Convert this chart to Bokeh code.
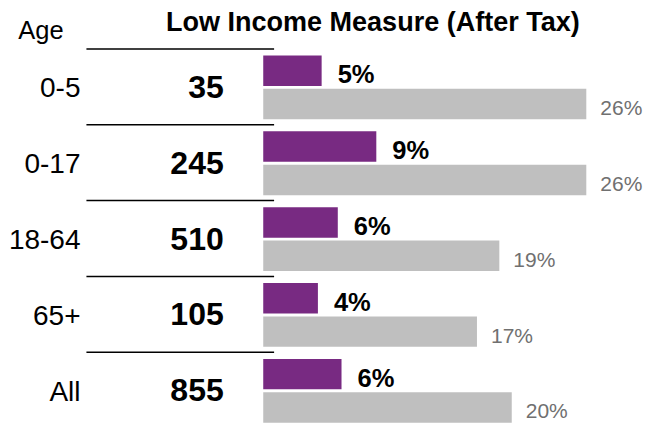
from bokeh.plotting import figure
from bokeh.models import Range1d, ColumnDataSource
from bokeh.core.properties import value
from bokeh.embed import file_html
from bokeh.resources import INLINE

# ---- data ----
ages = ["0-5", "0-17", "18-64", "65+", "All"]
counts = ["35", "245", "510", "105", "855"]
lim_pct = [4.7, 9.1, 6.0, 4.4, 6.3]          # purple bars (group)
lim_labels = ["5%", "9%", "6%", "4%", "6%"]
ref_pct = [26.0, 26.0, 19.0, 17.2, 20.0]     # grey bars (comparison)
ref_labels = ["26%", "26%", "19%", "17%", "20%"]
title_text = "Low Income Measure (After Tax)"
age_header = "Age"

# ---- layout (design grid is 652 x 432 px, drawn into a 644 x 424 figure) ----
W, H = 644, 424
GW, GH = 652, 432
PX_PER_PCT = 12.58
BAR_X0 = 266            # design px where 0% sits
ROW_PX = 77.3
ROW0_PX = 88.5          # design px of row-0 centre

def X(px):  # design px -> data x
    return (px - BAR_X0) / PX_PER_PCT

def Y(py):  # design px -> data y (row units, downward)
    return (py - ROW0_PX) / ROW_PX

FONT = "Liberation Sans"
PURPLE = "#782A82"
GREY = "#BFBFBF"
GREY_TXT = "#707070"

p = figure(width=W, height=H, output_backend="svg", toolbar_location=None,
           x_range=Range1d(X(0), X(GW)), y_range=Range1d(Y(GH), Y(0)),
           min_border=0, outline_line_color=None)
p.axis.visible = False
p.grid.visible = False
p.background_fill_color = "white"
p.border_fill_color = "white"

rows = list(range(len(ages)))
off = 17 / ROW_PX
bh = 31 / ROW_PX

src = ColumnDataSource(dict(
    row=rows, age=ages, cnt=counts,
    lim=lim_pct, liml=lim_labels, ref=ref_pct, refl=ref_labels,
    ylim=[r - off for r in rows], yref=[r + off for r in rows],
    ylim_t=[r - off + 3.5 / ROW_PX for r in rows],
    yref_t=[r + off + 3.5 / ROW_PX for r in rows],
    yage_t=[r + 0.5 / ROW_PX for r in rows],
    ycnt_t=[r - 0.5 / ROW_PX for r in rows],
    ysep=[r - 39.2 / ROW_PX for r in rows],
    xage=[X(81)] * len(rows), xcnt=[X(226)] * len(rows),
    xs0=[X(87)] * len(rows), xs1=[X(277)] * len(rows),
))

# separators
p.segment(x0="xs0", x1="xs1", y0="ysep", y1="ysep", source=src,
          line_color="black", line_width=1.5)

# bars
p.hbar(y="ylim", left=0, right="lim", height=bh, source=src,
       fill_color=PURPLE, line_color=None)
p.hbar(y="yref", left=0, right="ref", height=bh, source=src,
       fill_color=GREY, line_color=None)

# bar labels
p.text(x="lim", y="ylim_t", text="liml", source=src, x_offset=16,
       text_font=value(FONT), text_font_style="bold", text_font_size="25.5px",
       text_color="black", text_align="left", text_baseline="alphabetic")
p.text(x="ref", y="yref_t", text="refl", source=src, x_offset=14,
       text_font=value(FONT), text_font_size="21px",
       text_color=GREY_TXT, text_align="left", text_baseline="alphabetic")

# table columns
p.text(x="xage", y="yage_t", text="age", source=src,
       text_font=value(FONT), text_font_size="28px",
       text_color="black", text_align="right", text_baseline="alphabetic")
p.text(x="xcnt", y="ycnt_t", text="cnt", source=src,
       text_font=value(FONT), text_font_style="bold", text_font_size="32px",
       text_color="black", text_align="right", text_baseline="alphabetic")

# headers
p.text(x=[X(377)], y=[Y(22)], text=[title_text],
       text_font=value(FONT), text_font_style="bold", text_font_size="27px",
       text_color="black", text_align="center", text_baseline="alphabetic")
p.text(x=[X(18)], y=[Y(30)], text=[age_header],
       text_font=value(FONT), text_font_size="25.5px",
       text_color="black", text_align="left", text_baseline="alphabetic")

open("out.html", "w").write(file_html(p, INLINE))
